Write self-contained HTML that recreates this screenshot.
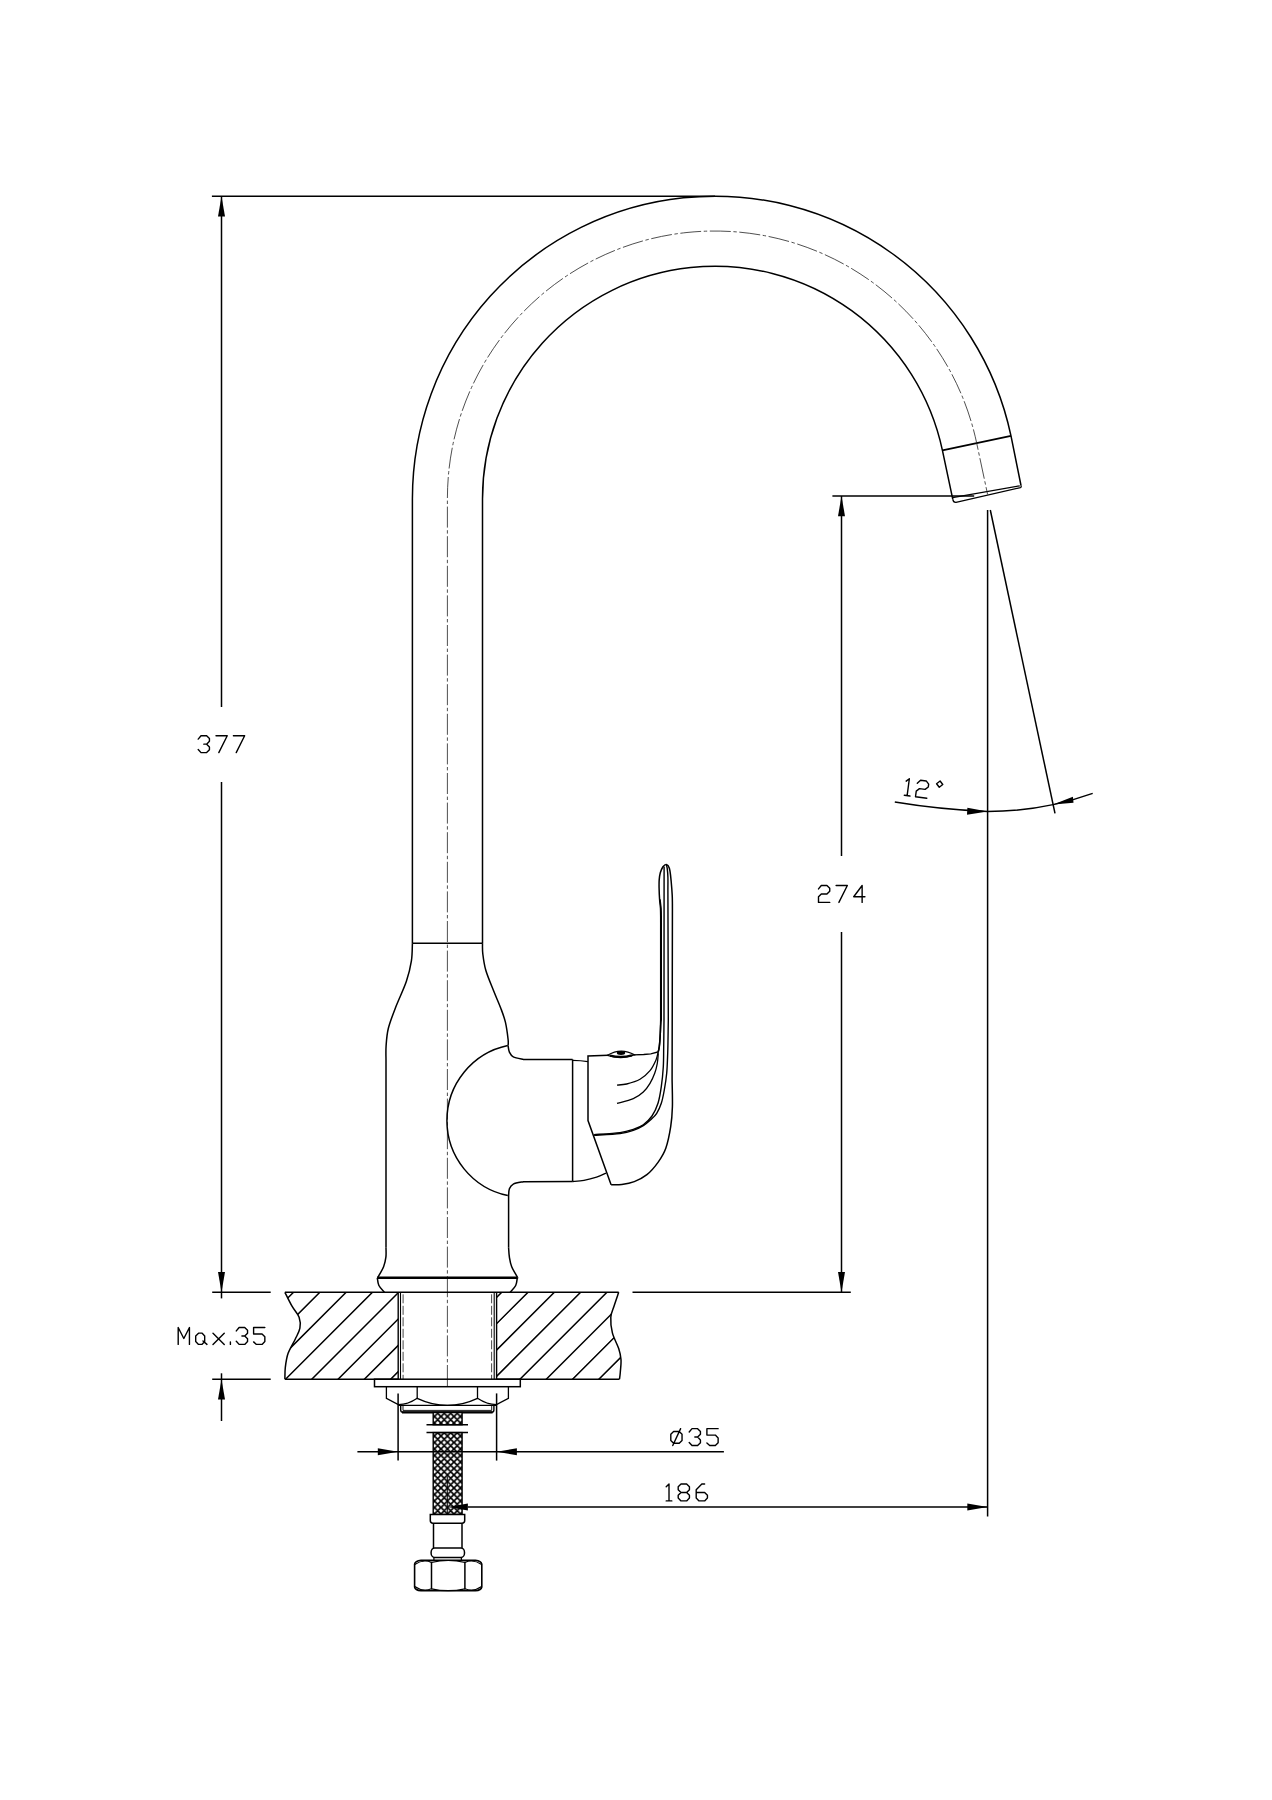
<!DOCTYPE html>
<html><head><meta charset="utf-8"><title>Faucet drawing</title>
<style>
html,body{margin:0;padding:0;background:#fff;}
body{width:1272px;height:1800px;overflow:hidden;font-family:"Liberation Sans",sans-serif;}
svg{display:block;}
</style></head><body>
<svg width="1272" height="1800" viewBox="0 0 1272 1800" fill="none" stroke="#000" stroke-linecap="butt">
<rect x="0" y="0" width="1272" height="1800" fill="#fff" stroke="none"/>
<path d="M412.4,943.3 L412.4,498.8 A302.6,302.6 0 0 1 1010.99,435.89 L1021,485.5" stroke-width="1.5" />
<path d="M482.5,943.3 L482.5,498.8 A232.5,232.5 0 0 1 942.42,450.46 L952.8,499.4" stroke-width="1.5" />
<path d="M942.42,450.46 L1010.99,435.89" stroke-width="1.8" />
<path d="M952.8,499.4 Q953.3,502.6 956,502.4 L1020.4,487.6 Q1021.6,487.2 1021,485.5" stroke-width="1.3" />
<path d="M952.6,497.6 L1019.8,485.8" stroke-width="1.2" />
<path d="M447.4,1386 L447.4,498.8 A267.55,267.55 0 0 1 976.7,443.17 L987.62,494.53" stroke-width="0.8" stroke-dasharray="21 2.6 3.4 2.6" stroke="#222"/>
<path d="M412.4,943.3 L482.5,943.3" stroke-width="1.5" />
<path d="M412.4,943.3 C412.23,946.23 412.4,954.57 411.4,960.9 C410.4,967.23 409.07,973.45 406.4,981.3 C403.73,989.15 398.42,1000.13 395.4,1008 C392.38,1015.87 389.85,1022.2 388.3,1028.5 C386.75,1034.8 386.48,1040.55 386.1,1045.8 C385.72,1051.05 386.02,1057.63 386,1060 L386,1247.8" stroke-width="1.5" />
<path d="M386,1247.8 C385.98,1249.37 386.3,1254.05 385.9,1257.2 C385.5,1260.35 384.9,1263.42 383.6,1266.7 C382.3,1269.98 379.15,1275.05 378.1,1276.9 C377.05,1278.75 377.43,1277.65 377.3,1277.8" stroke-width="1.5" />
<path d="M377.3,1277.8 C377.57,1279.08 377.72,1283.08 378.9,1285.5 C380.08,1287.92 383.48,1291.17 384.4,1292.3" stroke-width="1.5" />
<path d="M482.5,943.3 C482.55,945.05 482.25,949.3 482.8,953.8 C483.35,958.3 484,964.13 485.8,970.3 C487.6,976.47 491.12,984.52 493.6,990.8 C496.08,997.08 498.73,1002.77 500.7,1008 C502.67,1013.23 504.17,1016.95 505.4,1022.2 C506.63,1027.45 507.65,1035.57 508.1,1039.5 C508.55,1043.43 508.1,1044.75 508.1,1045.8" stroke-width="1.5" />
<path d="M508.1,1045.8 C508.32,1046.85 508.53,1050.27 509.4,1052.1 C510.27,1053.93 510.95,1055.58 513.3,1056.8 C515.65,1058.02 521.8,1058.97 523.5,1059.4 L572.6,1059.5" stroke-width="1.5" />
<path d="M507.8,1045.5 A76.7,76.7 0 0 0 507.8,1195.6" stroke-width="1.5" />
<path d="M572.6,1181.6 L523.5,1181.7  C521.8,1182.1 515.65,1182.92 513.3,1184.1 C510.95,1185.28 510.18,1186.83 509.4,1188.8 C508.62,1190.77 508.73,1194.72 508.6,1195.9 L508.6,1247.8" stroke-width="1.5" />
<path d="M508.6,1247.8 C508.73,1249.37 508.88,1254.05 509.4,1257.2 C509.92,1260.35 510.4,1263.42 511.7,1266.7 C513,1269.98 516.27,1275.05 517.2,1276.9 C518.13,1278.75 517.28,1277.65 517.3,1277.8" stroke-width="1.5" />
<path d="M517.3,1277.8 C517.03,1279.08 516.88,1283.08 515.7,1285.5 C514.52,1287.92 511.12,1291.17 510.2,1292.3" stroke-width="1.5" />
<path d="M377.3,1277.8 L517.3,1277.8" stroke-width="2.4" />
<path d="M572.6,1059.5 L572.6,1181.6" stroke-width="1.5" />
<path d="M572.6,1060.3 Q581,1060.4 587.9,1061.6" stroke-width="1.3" />
<path d="M572.6,1181.5 C574.5,1181.32 580,1181.12 584,1180.4 C588,1179.68 592.93,1178.4 596.6,1177.2 C600.27,1176 604.43,1173.87 606,1173.2" stroke-width="1.4" />
<path d="M657.8,1052 L650.8,1053.8 L643.7,1054.5 L633.8,1054.9" stroke-width="1.3" />
<path d="M608.3,1055.2 L588,1055.9 L588,1120.6 L611.1,1184.8" stroke-width="1.5" />
<path d="M607.5,1055.3 Q621,1047 634.5,1054.9 Q621,1059.6 607.5,1055.3 Z" stroke-width="1.3" fill="#fff"/>
<path d="M610,1055.6 Q621,1058.6 632,1055.4" stroke-width="2.4" />
<ellipse cx="621" cy="1053" rx="4.2" ry="1.9" fill="#000" stroke="none"/>
<path d="M665.7,864.3 C665.22,864.75 663.7,865.58 662.8,867 C661.9,868.42 660.9,870.65 660.3,872.8 C659.7,874.95 659.4,877.32 659.2,879.9 C659,882.48 659.03,885.05 659.1,888.3 C659.17,891.55 659.37,896.07 659.6,899.4 C659.83,902.73 660.32,905.33 660.5,908.3 C660.68,911.27 660.67,913.58 660.7,917.2 C660.73,920.82 660.7,927.87 660.7,930 L660.7,1020  C660.63,1022.22 660.53,1028.85 660.3,1033.3 C660.07,1037.75 659.68,1043.47 659.3,1046.7 C658.92,1049.93 658.22,1051.7 658,1052.7" stroke-width="1.5" />
<path d="M660,899.4 C660.17,900.88 660.79,905.33 661,908.3 C661.21,911.27 661.21,913.58 661.25,917.2 C661.29,920.82 661.25,927.87 661.25,930 L661.25,1020  C660.63,1022.22 660.53,1028.85 660.3,1033.3 C660.07,1037.75 659.68,1043.47 659.3,1046.7 C658.92,1049.93 658.22,1051.7 658,1052.7" stroke-width="1.5" />
<path d="M665.7,864.3 C666.1,864.53 667.4,864.65 668.1,865.7 C668.8,866.75 669.38,867.93 669.9,870.6 C670.42,873.27 670.82,877.63 671.2,881.7 C671.58,885.77 672,891.3 672.2,895 C672.4,898.7 672.37,900.57 672.4,903.9 C672.43,907.23 672.4,913.15 672.4,915 L672.1,1080  C672.15,1084.45 672.63,1098.92 672.4,1106.7 C672.17,1114.48 671.8,1119.77 670.7,1126.7 C669.6,1133.63 667.88,1142.4 665.8,1148.3 C663.72,1154.2 661.35,1157.7 658.2,1162.1 C655.05,1166.5 650.88,1171.45 646.9,1174.7 C642.92,1177.95 638.48,1179.97 634.3,1181.6 C630.12,1183.23 625.67,1183.97 621.8,1184.5 C617.93,1185.03 612.88,1184.75 611.1,1184.8" stroke-width="1.5" />
<path d="M664.1,866.4 L664,1020  C663.95,1024.45 663.82,1038.92 663.7,1046.7 C663.58,1054.48 663.7,1060.03 663.3,1066.7 C662.9,1073.37 662.18,1080.6 661.3,1086.7 C660.42,1092.8 659.55,1098.42 658,1103.3 C656.45,1108.18 654.45,1112.43 652,1116 C649.55,1119.57 646.42,1122.48 643.3,1124.7 C640.18,1126.92 637.18,1127.98 633.3,1129.3 C629.42,1130.62 626.53,1131.72 620,1132.6 C613.47,1133.48 598.42,1134.27 594.1,1134.6" stroke-width="1.4" />
<path d="M666.3,864.6 C666.45,865.22 666.93,866.23 667.2,868.3 C667.47,870.37 667.78,873.38 667.9,877 C668.02,880.62 667.9,887.83 667.9,890 L668.3,1020  C668.25,1023.33 668.1,1034.45 668,1040 C667.9,1045.55 667.92,1047.75 667.7,1053.3 C667.48,1058.85 667.27,1067.18 666.7,1073.3 C666.13,1079.42 665.2,1085 664.3,1090 C663.4,1095 662.57,1099.42 661.3,1103.3 C660.03,1107.18 658.42,1110.6 656.7,1113.3 C654.98,1116 653.23,1117.45 651,1119.5 C648.77,1121.55 646.25,1123.78 643.3,1125.6 C640.35,1127.42 637.18,1129.08 633.3,1130.4 C629.42,1131.72 626.53,1132.67 620,1133.5 C613.47,1134.33 598.42,1135.08 594.1,1135.4" stroke-width="1.4" />
<path d="M658,1052.7 C657.67,1053.92 657.33,1057 656,1060 C654.67,1063 652.67,1067.48 650,1070.7 C647.33,1073.92 643.88,1077.08 640,1079.3 C636.12,1081.52 630.53,1083.03 626.7,1084 C622.87,1084.97 618.62,1084.92 617,1085.1" stroke-width="1.3" />
<path d="M658.3,1053.3 C658.13,1054.97 657.9,1059.97 657.3,1063.3 C656.7,1066.63 655.92,1069.97 654.7,1073.3 C653.48,1076.63 651.9,1080.18 650,1083.3 C648.1,1086.42 646.08,1089.43 643.3,1092 C640.52,1094.57 637.68,1096.8 633.3,1098.7 C628.92,1100.6 619.72,1102.62 617,1103.4" stroke-width="1.3" />
<clipPath id="cl"><path d="M284.9,1292.3 C286.08,1294.62 289.63,1302.05 292,1306.2 C294.37,1310.35 297.78,1313.53 299.1,1317.2 C300.42,1320.87 300.55,1324.53 299.9,1328.2 C299.25,1331.87 297.17,1335.02 295.2,1339.2 C293.23,1343.38 289.75,1348.58 288.1,1353.3 C286.45,1358.02 285.83,1363.18 285.3,1367.5 C284.77,1371.82 284.97,1377.25 284.9,1379.2 L398.2,1379.2 L398.2,1292.3 Z"/></clipPath>
<clipPath id="cr"><path d="M618.7,1292.3 C617.92,1294.62 615.32,1302.05 614,1306.2 C612.68,1310.35 611.07,1312.75 610.8,1317.2 C610.53,1321.65 611.08,1327.67 612.4,1332.9 C613.72,1338.13 617.27,1344.15 618.7,1348.6 C620.13,1353.05 620.73,1355.67 621,1359.6 C621.27,1363.53 620.55,1368.93 620.3,1372.2 C620.05,1375.47 619.63,1378.03 619.5,1379.2 L496.6,1379.2 L496.6,1292.3 Z"/></clipPath>
<path d="M289.5,1270 L159.5,1400 M315.8,1270 L185.8,1400 M342.1,1270 L212.1,1400 M368.4,1270 L238.4,1400 M394.7,1270 L264.7,1400 M421,1270 L291,1400 M447.3,1270 L317.3,1400 M473.6,1270 L343.6,1400 M499.9,1270 L369.9,1400 M526.2,1270 L396.2,1400 M552.5,1270 L422.5,1400" stroke-width="1.5" clip-path="url(#cl)"/>
<path d="M471.4,1270 L341.4,1400 M497.7,1270 L367.7,1400 M524,1270 L394,1400 M550.3,1270 L420.3,1400 M576.6,1270 L446.6,1400 M602.9,1270 L472.9,1400 M629.2,1270 L499.2,1400 M655.5,1270 L525.5,1400 M681.8,1270 L551.8,1400 M708.1,1270 L578.1,1400 M734.4,1270 L604.4,1400 M760.7,1270 L630.7,1400" stroke-width="1.5" clip-path="url(#cr)"/>
<path d="M284.9,1292.3 C286.08,1294.62 289.63,1302.05 292,1306.2 C294.37,1310.35 297.78,1313.53 299.1,1317.2 C300.42,1320.87 300.55,1324.53 299.9,1328.2 C299.25,1331.87 297.17,1335.02 295.2,1339.2 C293.23,1343.38 289.75,1348.58 288.1,1353.3 C286.45,1358.02 285.83,1363.18 285.3,1367.5 C284.77,1371.82 284.97,1377.25 284.9,1379.2" stroke-width="1.5" />
<path d="M618.7,1292.3 C617.92,1294.62 615.32,1302.05 614,1306.2 C612.68,1310.35 611.07,1312.75 610.8,1317.2 C610.53,1321.65 611.08,1327.67 612.4,1332.9 C613.72,1338.13 617.27,1344.15 618.7,1348.6 C620.13,1353.05 620.73,1355.67 621,1359.6 C621.27,1363.53 620.55,1368.93 620.3,1372.2 C620.05,1375.47 619.63,1378.03 619.5,1379.2" stroke-width="1.5" />
<path d="M284.9,1292.3 L618.7,1292.3" stroke-width="1.5" />
<path d="M284.9,1379.2 L398.2,1379.2" stroke-width="1.5" />
<path d="M496.6,1379.2 L619.5,1379.2" stroke-width="1.5" />
<path d="M398.2,1292.3 L398.2,1379.2" stroke-width="1.4" />
<path d="M400.5,1292.3 L400.5,1379.2" stroke-width="1.1" />
<path d="M496.6,1292.3 L496.6,1379.2" stroke-width="1.4" />
<path d="M494.2,1292.3 L494.2,1379.2" stroke-width="1.1" />
<path d="M403.1,1294.3 L403.1,1379.2" stroke-width="0.9" stroke-dasharray="9 2.5" stroke="#333"/>
<path d="M491.6,1294.3 L491.6,1379.2" stroke-width="0.9" stroke-dasharray="9 2.5" stroke="#333"/>
<rect x="374.5" y="1379.2" width="145.8" height="7.5" stroke-width="1.5"/>
<path d="M386.4,1386.7 L386.4,1398.3 L398.3,1404.6 Q408,1404.6 417.2,1398.3 Q447.4,1412.5 477.5,1398.3 Q487,1404.6 496.5,1404.6 L508.4,1398.3 L508.4,1386.7" stroke-width="1.3" />
<path d="M417.2,1386.7 L417.2,1398.3" stroke-width="1.3" />
<path d="M477.5,1386.7 L477.5,1398.3" stroke-width="1.3" />
<path d="M398.3,1405.4 L496.5,1405.4" stroke-width="1.2" />
<path d="M400.7,1405.4 L400.7,1410 Q400.7,1412.3 403,1412.3 L491.6,1412.3 Q493.9,1412.3 493.9,1410 L493.9,1405.4" stroke-width="1.4" />
<path d="M402,1412.3 L492.6,1412.3" stroke-width="2.2" />
<path d="M403,1405.4 L403,1410.4 L491.7,1410.4 L491.7,1405.4" stroke-width="0.9" />
<pattern id="xh" patternUnits="userSpaceOnUse" width="6.5" height="6.5" x="434.45" y="1416.5"><rect width="6.5" height="6.5" fill="#fff" stroke="none"/><path d="M-1,-1 L7.5,7.5 M-1,7.5 L7.5,-1 M-1,5.5 L1,7.5 M5.5,-1 L7.5,1 M-1,1 L1,-1 M5.5,7.5 L7.5,5.5" stroke="#000" stroke-width="1.7"/></pattern>
<rect x="433.2" y="1412.5" width="28.9" height="12.2" fill="url(#xh)" stroke-width="1.4"/>
<rect x="433.2" y="1432.6" width="28.9" height="81.8" fill="url(#xh)" stroke-width="1.4"/>
<path d="M426.5,1424.7 L468,1424.7" stroke-width="1.5" />
<path d="M426.5,1432.6 L468,1432.6" stroke-width="1.5" />
<path d="M447.3,1476.5 L447.3,1515.8" stroke-width="1" />
<path d="M430.3,1514.4 L464.7,1514.4 L464.7,1520.5 Q464.7,1523.2 462,1523.2 L433,1523.2 Q430.3,1523.2 430.3,1520.5 Z" stroke-width="1.5" fill="#fff"/>
<path d="M433.5,1523.2 L433.5,1548" stroke-width="1.5" />
<path d="M462,1523.2 L462,1548" stroke-width="1.5" />
<rect x="431.1" y="1548" width="33.4" height="9.4" rx="3.5" ry="4.5" stroke-width="1.5"/>
<path d="M433.9,1557.4 L433.9,1560.2" stroke-width="1.3" />
<path d="M461.4,1557.4 L461.4,1560.2" stroke-width="1.3" />
<path d="M414.6,1564.2 Q415.2,1561 421,1560.3 L475.4,1560.3 Q481.2,1561 481.8,1564.2 L481.8,1587 Q481.2,1590.2 475.4,1590.8 L421,1590.8 Q415.2,1590.2 414.6,1587 Z" stroke-width="1.6" />
<path d="M431.5,1561.8 L431.5,1589.4" stroke-width="1.5" />
<path d="M464.9,1561.8 L464.9,1589.4" stroke-width="1.5" />
<path d="M414.8,1564.5 Q423,1558.8 431.5,1562.4 Q448.2,1558.6 464.9,1562.4 Q473.4,1558.8 481.6,1564.5" stroke-width="1.2" />
<path d="M414.8,1586.6 Q423,1592.4 431.5,1588.8 Q448.2,1592.6 464.9,1588.8 Q473.4,1592.4 481.6,1586.6" stroke-width="1.2" />
<path d="M211.9,196.2 L715,196.2" stroke-width="1.5" />
<path d="M221.5,196.2 L221.5,707" stroke-width="1.5" />
<path d="M221.5,782 L221.5,1292.3" stroke-width="1.5" />
<path d="M221.5,196.2 L225,216.5 L218,216.5 Z" fill="#000" stroke="none"/>
<path d="M221.5,1292.3 L218,1272 L225,1272 Z" fill="#000" stroke="none"/>
<path d="M212.2,1292.3 L270.7,1292.3" stroke-width="1.5" />
<path d="M212.2,1379.2 L270.7,1379.2" stroke-width="1.5" />
<path d="M221.5,1292.3 L221.5,1298.4" stroke-width="1.5" />
<path d="M221.5,1373.3 L221.5,1421" stroke-width="1.5" />
<path d="M221.5,1379.2 L225,1399.5 L218,1399.5 Z" fill="#000" stroke="none"/>
<path d="M832.4,495.9 L974.2,495.9" stroke-width="1.5" />
<path d="M841.5,495.9 L841.5,855.9" stroke-width="1.5" />
<path d="M841.5,932.1 L841.5,1292.3" stroke-width="1.5" />
<path d="M841.5,495.9 L845,516.2 L838,516.2 Z" fill="#000" stroke="none"/>
<path d="M841.5,1292.3 L838,1272 L845,1272 Z" fill="#000" stroke="none"/>
<path d="M632.5,1292.3 L850.8,1292.3" stroke-width="1.5" />
<path d="M987.6,510 L987.6,1516.4" stroke-width="1.5" />
<path d="M990.3,510 L1055,813.4" stroke-width="1.5" />
<path d="M987.6,811.5 A313.7,313.7 0 0 0 1092.7,793.37" stroke-width="1.5" />
<path d="M894.8,802 Q940,809.5 987.6,811.5" stroke-width="1.5" />
<path d="M987.6,811.5 L967.4,807.7 L967,814.7 Z" fill="#000" stroke="none"/>
<path d="M1053.1,804.5 L1072.9,796.8 L1073.5,802.7 Z" fill="#000" stroke="none"/>
<path d="M398.1,1393.4 L398.1,1460.6" stroke-width="1.5" />
<path d="M496.6,1393.4 L496.6,1460.6" stroke-width="1.5" />
<path d="M357.4,1451.7 L723.9,1451.7" stroke-width="1.5" />
<path d="M398.1,1451.7 L377.8,1455.2 L377.8,1448.2 Z" fill="#000" stroke="none"/>
<path d="M496.6,1451.7 L516.9,1448.2 L516.9,1455.2 Z" fill="#000" stroke="none"/>
<path d="M468,1506.9 L987.6,1506.9" stroke-width="1.5" />
<path d="M447.6,1506.9 L467.9,1503.4 L467.9,1510.4 Z" fill="#000" stroke="none"/>
<path d="M987.6,1506.9 L967.3,1510.4 L967.3,1503.4 Z" fill="#000" stroke="none"/>
<path d="M198.2,739.11 L201.01,735.74 L206.63,735.74 L209.44,738.55 L209.44,741.36 L206.63,744.17 L203.82,744.17 M206.63,744.17 L209.44,746.98 L209.44,749.79 L206.63,752.6 L201.01,752.6 L198.2,749.51 M216,735.74 L227.24,735.74 L218.81,752.6 M233.4,735.74 L244.64,735.74 L236.21,752.6" stroke-width="1.4" stroke-linejoin="round" stroke-linecap="round"/>
<path d="M818.5,888.91 L821.31,885.54 L826.93,885.54 L829.74,888.35 L829.74,891.16 L826.93,893.97 L821.31,893.97 L818.5,896.78 L818.5,902.4 L829.74,902.4 M836.1,885.54 L847.34,885.54 L838.91,902.4 M862.13,902.4 L862.13,885.54 L853.7,896.78 L864.94,896.78" stroke-width="1.4" stroke-linejoin="round" stroke-linecap="round"/>
<path d="M178.2,1344.4 L178.2,1327.54 L183.82,1338.5 L189.44,1327.54 L189.44,1344.4 M204.69,1335.97 L202.16,1333.16 L198.51,1333.16 L195.7,1335.97 L195.7,1341.59 L198.51,1344.4 L201.88,1344.4 L204.69,1341.59 L204.69,1335.97 M203.01,1341.03 L206.94,1344.4 M213,1333.16 L224.24,1344.4 M224.24,1333.16 L213,1344.4 M230.4,1341.87 L230.4,1344.4 M236.3,1330.91 L239.11,1327.54 L244.73,1327.54 L247.54,1330.35 L247.54,1333.16 L244.73,1335.97 L241.92,1335.97 M244.73,1335.97 L247.54,1338.78 L247.54,1341.59 L244.73,1344.4 L239.11,1344.4 L236.3,1341.31 M264.84,1327.54 L253.6,1327.54 L253.6,1334 L262.03,1334 L264.84,1336.81 L264.84,1341.59 L262.03,1344.4 L256.41,1344.4 L253.6,1341.87" stroke-width="1.4" stroke-linejoin="round" stroke-linecap="round"/>
<path d="M673.61,1431.45 L679.23,1431.45 L682.04,1434.26 L682.04,1440.44 L679.23,1443.25 L673.61,1443.25 L670.8,1440.44 L670.8,1434.26 L673.61,1431.45 M672.77,1445.5 L680.63,1428.64 M689.2,1432.01 L692.01,1428.64 L697.63,1428.64 L700.44,1431.45 L700.44,1434.26 L697.63,1437.07 L694.82,1437.07 M697.63,1437.07 L700.44,1439.88 L700.44,1442.69 L697.63,1445.5 L692.01,1445.5 L689.2,1442.41 M718.14,1428.64 L706.9,1428.64 L706.9,1435.1 L715.33,1435.1 L718.14,1437.91 L718.14,1442.69 L715.33,1445.5 L709.71,1445.5 L706.9,1442.97" stroke-width="1.4" stroke-linejoin="round" stroke-linecap="round"/>
<path d="M666.2,1486.85 L669.01,1484.04 L669.01,1500.9 M666.2,1500.9 L671.82,1500.9 M681.01,1484.04 L686.63,1484.04 L689.44,1486.85 L689.44,1489.66 L686.63,1492.47 L681.01,1492.47 L678.2,1489.66 L678.2,1486.85 L681.01,1484.04 M681.01,1492.47 L678.2,1495.28 L678.2,1498.09 L681.01,1500.9 L686.63,1500.9 L689.44,1498.09 L689.44,1495.28 L686.63,1492.47 M704.63,1484.04 L701.82,1484.04 L696.2,1489.66 L696.2,1498.09 L699.01,1500.9 L704.63,1500.9 L707.44,1498.09 L707.44,1495.28 L704.63,1492.47 L696.2,1492.47" stroke-width="1.4" stroke-linejoin="round" stroke-linecap="round"/>
<path d="M0,-14.25 L2.85,-17.1 L2.85,0 M0,0 L5.7,0 M11.3,-13.68 L14.15,-17.1 L19.85,-17.1 L22.7,-14.25 L22.7,-11.4 L19.85,-8.55 L14.15,-8.55 L11.3,-5.7 L11.3,0 L22.7,0 M33.62,-18.81 L36.75,-15.68 L33.62,-12.54 L30.48,-15.68 L33.62,-18.81" stroke-width="1.4" stroke-linejoin="round" stroke-linecap="round" transform="translate(904.3,795.3) rotate(7.5)"/>
</svg>
</body></html>
